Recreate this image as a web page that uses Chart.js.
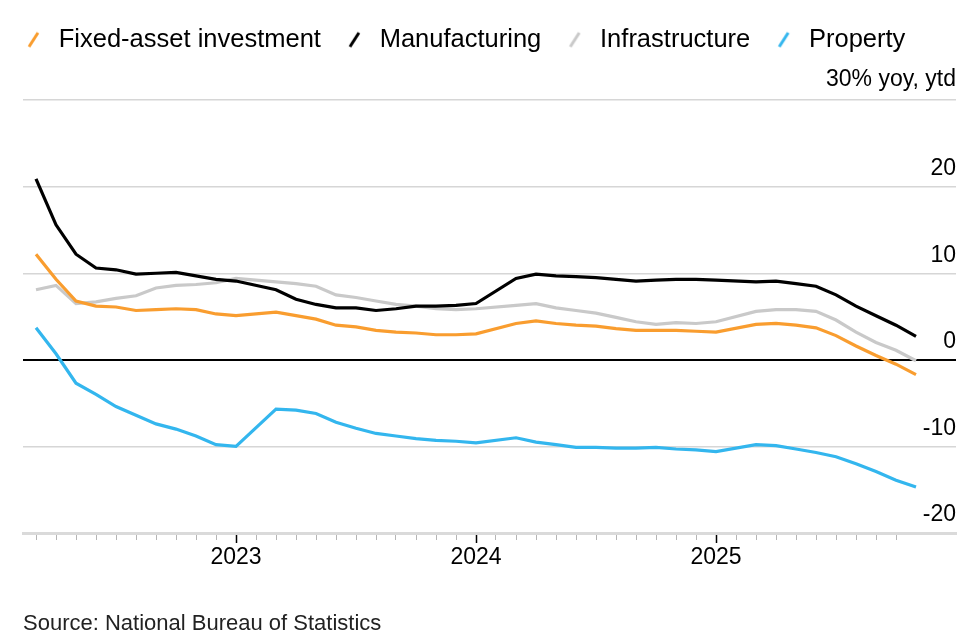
<!DOCTYPE html>
<html>
<head>
<meta charset="utf-8">
<script src="https://cdn.jsdelivr.net/npm/chart.js@4/dist/chart.umd.min.js"></script>
<style>
  html, body { margin: 0; padding: 0; background: #fff; }
  #wrap { width: 972px; height: 641px; position: relative; }
</style>
</head>
<body>
<div id="wrap"><canvas id="fai-chart"></canvas></div>
<script>
// China fixed-asset investment, % yoy year-to-date (no January releases)
const months = [
    '2022-02', '2022-03', '2022-04', '2022-05', '2022-06', '2022-07', '2022-08', '2022-09', '2022-10', '2022-11', '2022-12',
    '2023-02', '2023-03', '2023-04', '2023-05', '2023-06', '2023-07', '2023-08', '2023-09', '2023-10', '2023-11', '2023-12',
    '2024-02', '2024-03', '2024-04', '2024-05', '2024-06', '2024-07', '2024-08', '2024-09', '2024-10', '2024-11', '2024-12',
    '2025-02', '2025-03', '2025-04', '2025-05', '2025-06', '2025-07', '2025-08', '2025-09', '2025-10'
];

const fixedAsset = [
    12.2, 9.3, 6.8, 6.2, 6.1, 5.7, 5.8, 5.9, 5.8, 5.3, 5.1,
    5.5, 5.1, 4.7, 4.0, 3.8, 3.4, 3.2, 3.1, 2.9, 2.9, 3.0,
    4.2, 4.5, 4.2, 4.0, 3.9, 3.6, 3.4, 3.4, 3.4, 3.3, 3.2,
    4.1, 4.2, 4.0, 3.7, 2.8, 1.6, 0.5, -0.5, -1.7
];

const manufacturing = [
    20.9, 15.6, 12.2, 10.6, 10.4, 9.9, 10.0, 10.1, 9.7, 9.3, 9.1,
    8.1, 7.0, 6.4, 6.0, 6.0, 5.7, 5.9, 6.2, 6.2, 6.3, 6.5,
    9.4, 9.9, 9.7, 9.6, 9.5, 9.3, 9.1, 9.2, 9.3, 9.3, 9.2,
    9.0, 9.1, 8.8, 8.5, 7.5, 6.2, 5.1, 4.0, 2.7
];

const infrastructure = [
    8.1, 8.6, 6.5, 6.7, 7.1, 7.4, 8.3, 8.6, 8.7, 8.9, 9.4,
    9.0, 8.8, 8.5, 7.5, 7.2, 6.8, 6.4, 6.2, 5.9, 5.8, 5.9,
    6.3, 6.5, 6.0, 5.7, 5.4, 4.9, 4.4, 4.1, 4.3, 4.2, 4.4,
    5.6, 5.8, 5.8, 5.6, 4.6, 3.2, 2.0, 1.1, -0.1
];

const property = [
    3.7, 0.7, -2.7, -4.0, -5.4, -6.4, -7.4, -8.0, -8.8, -9.8, -10.0,
    -5.7, -5.8, -6.2, -7.2, -7.9, -8.5, -8.8, -9.1, -9.3, -9.4, -9.6,
    -9.0, -9.5, -9.8, -10.1, -10.1, -10.2, -10.2, -10.1, -10.3, -10.4, -10.6,
    -9.8, -9.9, -10.3, -10.7, -11.2, -12.0, -12.9, -13.9, -14.7
];

const seriesNames = ['Fixed-asset investment', 'Manufacturing', 'Infrastructure', 'Property'];
const seriesColors = ['#f99d2f', '#000000', '#c9c9c9', '#33b6ee'];
const yTicks = [-20, -10, 0, 10, 20, 30];
const yearTicks = [2023, 2024, 2025];
const unitLabel = '30% yoy, ytd';

const FONT = "'Liberation Sans', Arial, sans-serif";

// month position: 0 = start of Jan 2022, a ytd value sits at the end of its month
function monthPos(label) {
    const [y, m] = label.split('-').map(Number);
    return (y - 2022) * 12 + m;
}

// little "/" marks used as legend symbols
function makeSlash(color) {
    const c = document.createElement('canvas');
    c.width = 24;
    c.height = 26;
    const g = c.getContext('2d');
    g.strokeStyle = color;
    g.lineWidth = 3;
    g.beginPath();
    g.moveTo(7, 20);
    g.lineTo(16, 6);
    g.stroke();
    return c;
}

function buildDatasets() {
    const values = [fixedAsset, manufacturing, infrastructure, property];
    return values.map((vals, i) => ({
        label: seriesNames[i],
        data: vals.map((v, j) => ({ x: monthPos(months[j]), y: v })),
        borderColor: seriesColors[i],
        backgroundColor: seriesColors[i],
        borderWidth: 3.2,
        pointRadius: 0,
        pointHoverRadius: 0,
        pointStyle: makeSlash(seriesColors[i]),
        tension: 0
    }));
}

const ctx = document.getElementById('fai-chart').getContext('2d');
const chart = new Chart(ctx, {
    type: 'line',
    data: { datasets: buildDatasets() },
    options: {
        responsive: true,
        maintainAspectRatio: false,
        animation: false,
        events: [],
        layout: { padding: { top: 5, left: 0, right: 16, bottom: 0 } },
        plugins: {
            tooltip: { enabled: false },
            legend: {
                position: 'top',
                align: 'start',
                weight: 3000,
                labels: {
                    usePointStyle: true,
                    pointStyleWidth: 24,
                    boxWidth: 24,
                    padding: 22,
                    color: '#000',
                    font: { family: FONT, size: 25.5 }
                }
            },
            subtitle: {
                display: true,
                position: 'top',
                align: 'end',
                text: unitLabel,
                color: '#000',
                font: { family: FONT, size: 23, weight: 'normal' },
                padding: { top: 3, bottom: 7 }
            }
        },
        scales: {
            x: {
                type: 'linear',
                min: 1.35,
                max: 48,
                afterFit: s => { s.paddingLeft = 23; s.paddingRight = 0; },
                afterBuildTicks: s => {
                    const t = [];
                    for (let m = 2; m <= 45; m++) t.push({ value: m });
                    s.ticks = t;
                },
                border: { display: true, color: '#dadada', width: 3 },
                grid: {
                    drawOnChartArea: false,
                    drawTicks: true,
                    tickLength: 10,
                    tickColor: c => (c.tick && c.tick.value % 12 === 0) ? '#000' : '#b5b5b5',
                    tickWidth: c => (c.tick && c.tick.value % 12 === 0) ? 1.5 : 1,
                    tickBorderDash: c => (c.tick && c.tick.value % 12 === 0) ? [] : [5, 30]
                },
                ticks: {
                    autoSkip: false,
                    maxRotation: 0,
                    minRotation: 0,
                    padding: 1,
                    color: '#000',
                    font: { family: FONT, size: 23 },
                    callback: v => {
                        const yr = 2022 + v / 12;
                        return yearTicks.includes(yr) ? String(yr) : '';
                    }
                },
                title: {
                    display: true,
                    text: 'Source: National Bureau of Statistics',
                    align: 'start',
                    color: '#222',
                    font: { family: FONT, size: 22 },
                    padding: { top: 38, bottom: 4 }
                }
            },
            y: {
                position: 'right',
                min: -20,
                max: 30,
                afterBuildTicks: s => { s.ticks = yTicks.map(v => ({ value: v })); },
                border: { display: false },
                grid: {
                    drawTicks: false,
                    color: c => (c.tick && c.tick.value === 0) ? '#000' : '#d6d6d6',
                    lineWidth: c => (c.tick && c.tick.value === 0) ? 2 : 1.5
                },
                ticks: {
                    mirror: true,
                    padding: 0,
                    labelOffset: -18,
                    color: '#000',
                    font: { family: FONT, size: 23 },
                    // the top line carries the unit label in the subtitle instead
                    callback: v => v === 30 ? '' : String(v)
                }
            }
        }
    }
});
</script>
</body>
</html>
